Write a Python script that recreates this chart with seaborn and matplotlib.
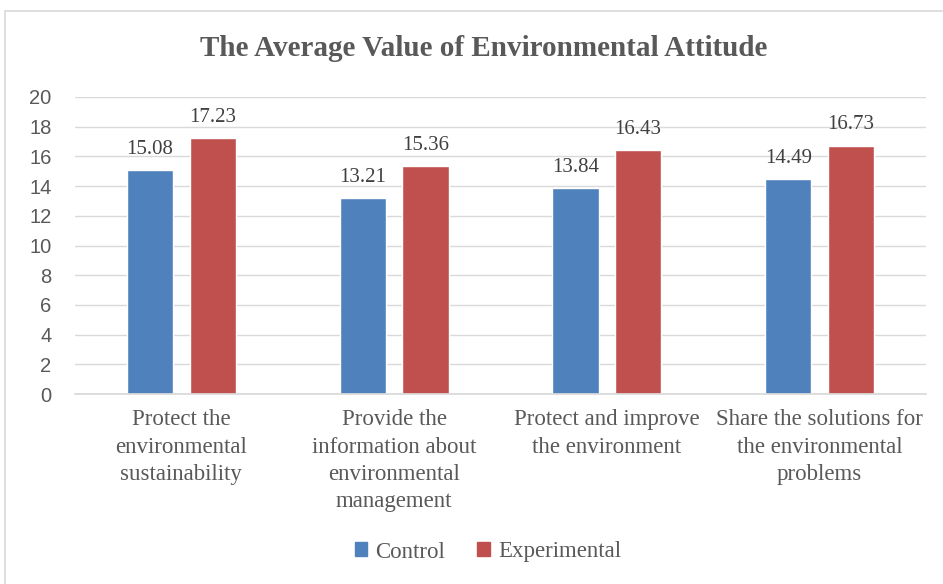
import matplotlib
matplotlib.use("Agg")
import matplotlib.pyplot as plt
import matplotlib.patches as mpatches
import seaborn as sns
import pandas as pd

categories = ["Protect the\nenvironmental\nsustainability",
              "Provide the\ninformation about\nenvironmental\nmanagement",
              "Protect and improve\nthe environment",
              "Share the solutions for\nthe environmental\nproblems"]
control = [15.08, 13.21, 13.84, 14.49]
experimental = [17.23, 15.36, 16.43, 16.73]
series = ["Control", "Experimental"]
colors = ["#4F81BD", "#C0504D"]
yticks = [0, 2, 4, 6, 8, 10, 12, 14, 16, 18, 20]

df = pd.DataFrame({
    "Category": categories * 2,
    "Series": [series[0]] * 4 + [series[1]] * 4,
    "Value": control + experimental,
})

sns.set_theme(style="white")
serif = ["Liberation Serif", "DejaVu Serif"]
sans = ["Liberation Sans", "DejaVu Sans"]
textc = "#595959"

fig = plt.figure(figsize=(9.43, 5.84), dpi=100)
ax = fig.add_axes([75 / 943, 1 - 394 / 584, (926 - 75) / 943, (394 - 97) / 584])

sns.barplot(data=df, x="Category", y="Value", hue="Series", palette=colors,
            width=0.588, gap=0.26, ax=ax, legend=False, saturation=1)

for c in ax.containers:
    ax.bar_label(c, labels=[f"{v:.2f}" for v in c.datavalues], padding=8,
                 fontsize=15, color="#404040", family=serif)

ax.set_ylim(0, 20)
ax.set_yticks(yticks)
ax.set_yticklabels([str(t) for t in yticks], fontsize=14.5, color=textc, family=sans)
ax.yaxis.grid(True, color="#D9D9D9", linewidth=1)
ax.set_axisbelow(True)
ax.set_xlabel("")
ax.set_ylabel("")
ax.tick_params(axis="both", length=0)
ax.tick_params(axis="x", pad=11)
ax.tick_params(axis="y", pad=17)
for lab in ax.get_xticklabels():
    lab.set_fontfamily(serif)
    lab.set_fontsize(16.5)
    lab.set_color(textc)
    lab.set_linespacing(1.4)
for s in ["top", "right", "left"]:
    ax.spines[s].set_visible(False)
ax.spines["bottom"].set_color("#D9D9D9")

fig.text(484 / 943, 1 - 48 / 584, "The Average Value of Environmental Attitude",
         ha="center", va="center", fontsize=21, fontweight="bold", color=textc, family=serif)

handles = [mpatches.Patch(color=c, label=s) for c, s in zip(colors, series)]
fig.legend(handles=handles, loc="center", bbox_to_anchor=(488 / 943, 1 - 552 / 584), ncol=2,
           frameon=False, prop={"family": serif, "size": 16.5}, labelcolor=textc,
           handlelength=0.55, handleheight=0.55, handletextpad=0.35, columnspacing=1.4)

border = mpatches.Rectangle((5 / 943, -0.1), 1.1, 1 - 11 / 584 + 0.1, transform=fig.transFigure,
                            fill=False, edgecolor="#D9D9D9", linewidth=1.2)
fig.patches.append(border)

fig.savefig("out.png", dpi=100)
